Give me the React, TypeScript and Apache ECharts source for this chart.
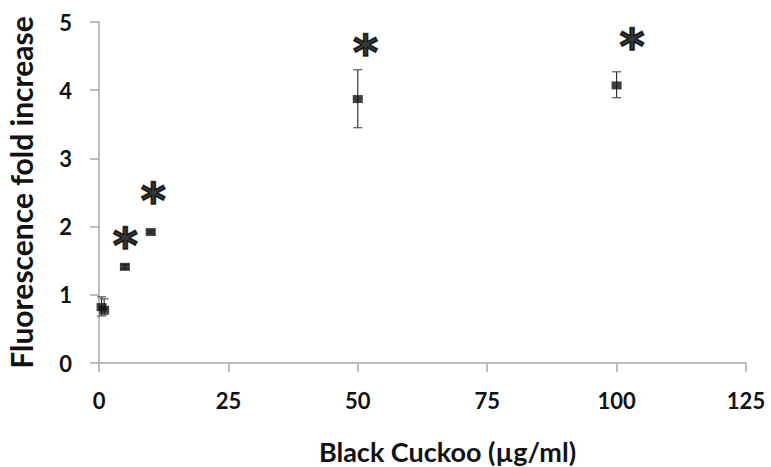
import React, { useEffect, useRef } from "react";
import * as echarts from "echarts";

// Concentrations (µg/ml) and mean fluorescence fold increase
const concentrations = [0.5, 1, 5, 10, 50, 100];
const foldIncrease = [0.82, 0.78, 1.41, 1.92, 3.87, 4.07];
const errLow = [0.69, 0.71, 1.38, 1.9, 3.45, 3.89];
const errHigh = [0.97, 0.94, 1.44, 1.94, 4.3, 4.27];

// significance marks (asterisk anchor positions, data coords)
const sigX = [5.1, 10.5, 51.5, 103];
const sigY = [1.83, 2.49, 4.66, 4.75];

const xTicks = [0, 25, 50, 75, 100, 125];
const yTicks = [0, 1, 2, 3, 4, 5];

const FONT = "Lato";

export default function App() {
  const ref = useRef<HTMLDivElement>(null);
  useEffect(() => {
    if (!ref.current) return;
    const chart = echarts.init(ref.current, null, { renderer: "svg" });
    const axisColor = "#a8a8a8";
    chart.setOption({
      animation: false,
      backgroundColor: "#ffffff",
      grid: {
        left: 99,
        right: 25,
        top: 22,
        bottom: 104,
        containLabel: false,
        outerBoundsMode: "none",
      },
      xAxis: {
        type: "value",
        min: xTicks[0],
        max: xTicks[xTicks.length - 1],
        interval: 25,
        name: "Black Cuckoo (µg/ml)",
        nameLocation: "middle",
        nameGap: 75,
        nameTextStyle: {
          fontFamily: FONT,
          fontWeight: "bold",
          fontSize: 27,
          color: "#111",
          padding: [0, 0, 0, 50],
        },
        axisLine: { show: true, lineStyle: { color: axisColor, width: 1.5 } },
        axisTick: { show: true, inside: false, length: 9, lineStyle: { color: axisColor, width: 1.5 } },
        axisLabel: {
          margin: 26,
          fontFamily: FONT,
          fontWeight: "bold",
          fontSize: 22,
          color: "#111",
        },
        splitLine: { show: false },
      },
      yAxis: {
        type: "value",
        min: yTicks[0],
        max: yTicks[yTicks.length - 1],
        interval: 1,
        name: "Fluorescence fold increase",
        nameLocation: "middle",
        nameGap: 63,
        nameTextStyle: {
          fontFamily: FONT,
          fontWeight: "bold",
          fontSize: 30,
          color: "#111",
        },
        axisLine: { show: true, lineStyle: { color: axisColor, width: 1.5 } },
        axisTick: { show: true, inside: false, length: 9, lineStyle: { color: axisColor, width: 1.5 } },
        axisLabel: {
          margin: 27,
          fontFamily: FONT,
          fontWeight: "bold",
          fontSize: 22,
          color: "#111",
        },
        splitLine: { show: false },
      },
      series: [
        {
          type: "custom",
          name: "error",
          renderItem: (params: any, api: any) => {
            const x = api.value(0);
            const lo = api.coord([x, api.value(1)]);
            const hi = api.coord([x, api.value(2)]);
            const hw = 4.5;
            const style = { stroke: "#222", lineWidth: 1.1 };
            return {
              type: "group",
              children: [
                { type: "line", shape: { x1: lo[0], y1: lo[1], x2: hi[0], y2: hi[1] }, style },
                { type: "line", shape: { x1: hi[0] - hw, y1: hi[1], x2: hi[0] + hw, y2: hi[1] }, style: { stroke: "#555", lineWidth: 1.2 } },
                { type: "line", shape: { x1: lo[0] - hw, y1: lo[1], x2: lo[0] + hw, y2: lo[1] }, style: { stroke: "#555", lineWidth: 1.2 } },
              ],
            };
          },
          data: concentrations.map((c, i) => [c, errLow[i], errHigh[i]]),
          z: 2,
        },
        {
          type: "scatter",
          name: "mean",
          symbol: "rect",
          symbolSize: [10, 8],
          itemStyle: { color: "#111" },
          data: concentrations.map((c, i) => [c, foldIncrease[i]]),
          z: 3,
        },
        {
          type: "scatter",
          name: "significance",
          symbolSize: 0,
          silent: true,
          label: {
            show: true,
            position: "inside",
            formatter: "*",
            fontFamily: "DejaVu Sans",
            fontWeight: "bold",
            fontSize: 48,
            color: "#000",
            textBorderColor: "#000",
            textBorderWidth: 1.6,
            offset: [0, 7],
          },
          data: sigX.map((x, i) => [x, sigY[i]]),
          z: 4,
        },
      ],
    });
    return () => chart.dispose();
  }, []);
  return <div ref={ref} style={{ width: 771, height: 467, position: "absolute", left: 0, top: 0 }} />;
}
